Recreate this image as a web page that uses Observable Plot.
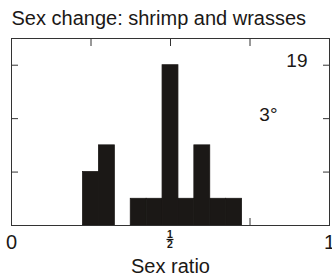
<!DOCTYPE html>
<html>
<head>
<meta charset="utf-8">
<script src="https://cdn.jsdelivr.net/npm/d3@7"></script>
<script src="https://cdn.jsdelivr.net/npm/@observablehq/plot@0.6"></script>
<style>
  html, body { margin: 0; padding: 0; background: #fff; }
  #chart svg { display: block; }
</style>
</head>
<body>
<div id="chart"></div>
<script>
// ---- data ----
const title = "Sex change: shrimp and wrasses";
const xLabel = "Sex ratio";
const binCenters = [0.25, 0.30, 0.35, 0.40, 0.45, 0.50, 0.55, 0.60, 0.65, 0.70];
const counts     = [2,    3,    0,    1,    1,    6,    1,    3,    1,    1];
const binWidth = 0.05;
const xTicks = [0.25, 0.5, 0.75];
const yTicks = [2, 4, 6];
const xTickLabelValues = [0, 1];
const xTickLabelTexts = ["0", "1"];
const fracTicks = [0.5];
const fracNum = ["1"];
const fracDen = ["2"];
const totalLabel = "19";
const levelLabel = "3°";

const bins = binCenters.map((c, i) => ({x1: c - binWidth / 2, x2: c + binWidth / 2, count: counts[i]}));
const font = "'Liberation Sans', Arial, Helvetica, sans-serif";
const ink = "#1b1816";

const fracMark = (index, scales, values, dims) => {
  const g = d3.create("svg:g").attr("font-family", font).attr("fill", ink);
  fracTicks.forEach((v, i) => {
    const cx = scales.x(v);
    const base = dims.height - dims.marginBottom;
    g.append("text").attr("x", cx).attr("y", base + 13).attr("text-anchor", "middle")
      .attr("font-size", 10.5).attr("font-weight", "bold").text(fracNum[i]);
    g.append("line").attr("x1", cx - 3.5).attr("x2", cx + 3.5)
      .attr("y1", base + 14.5).attr("y2", base + 14.5).attr("stroke", ink).attr("stroke-width", 1.2);
    g.append("text").attr("x", cx).attr("y", base + 23).attr("text-anchor", "middle")
      .attr("font-size", 10.5).attr("font-weight", "bold").text(fracDen[i]);
  });
  return g.node();
};

const chart = Plot.plot({
  width: 332,
  height: 276,
  marginLeft: 11,
  marginRight: 3,
  marginTop: 38,
  marginBottom: 51,
  style: {fontFamily: font, background: "#fff", color: ink},
  x: {domain: [0, 1]},
  y: {domain: [0, 7]},
  marks: [
    Plot.axisY(yTicks, {anchor: "left", tickSize: 7, dx: 7, tickFormat: () => "", label: null, stroke: "#333"}),
    Plot.axisY(yTicks, {anchor: "right", tickSize: 7, dx: -7, tickFormat: () => "", label: null, stroke: "#333"}),
    Plot.axisX(xTicks, {anchor: "top", tickSize: 7, dy: 7, tickFormat: () => "", label: null, stroke: "#333"}),
    Plot.axisX(xTicks, {anchor: "bottom", tickSize: 7, dy: -7, tickFormat: () => "", label: null, stroke: "#333"}),
    Plot.rectY(bins, {x1: "x1", x2: "x2", y: "count", fill: ink, stroke: ink, strokeWidth: 0.8, inset: 0}),
    Plot.frame({stroke: "#333", strokeWidth: 1}),
    Plot.axisX(xTickLabelValues, {anchor: "bottom", tickSize: 0, tickPadding: 9, fontSize: 20,
      tickFormat: (d) => xTickLabelTexts[xTickLabelValues.indexOf(d)], label: null, fill: ink}),
    fracMark,
    Plot.text([xLabel], {frameAnchor: "bottom", lineAnchor: "bottom", textAnchor: "middle", dy: 47, fontSize: 20, fill: ink}),
    Plot.text([title], {frameAnchor: "top-left", lineAnchor: "bottom", textAnchor: "start", dy: -14, fontSize: 20, fill: ink}),
    Plot.text([totalLabel], {frameAnchor: "top-right", lineAnchor: "bottom", textAnchor: "end", dx: -22, dy: 28, fontSize: 19, fill: ink}),
    Plot.text([levelLabel], {frameAnchor: "top-right", lineAnchor: "bottom", textAnchor: "end", dx: -52, dy: 82, fontSize: 19, fill: ink})
  ]
});
document.getElementById("chart").appendChild(chart);
</script>
</body>
</html>
